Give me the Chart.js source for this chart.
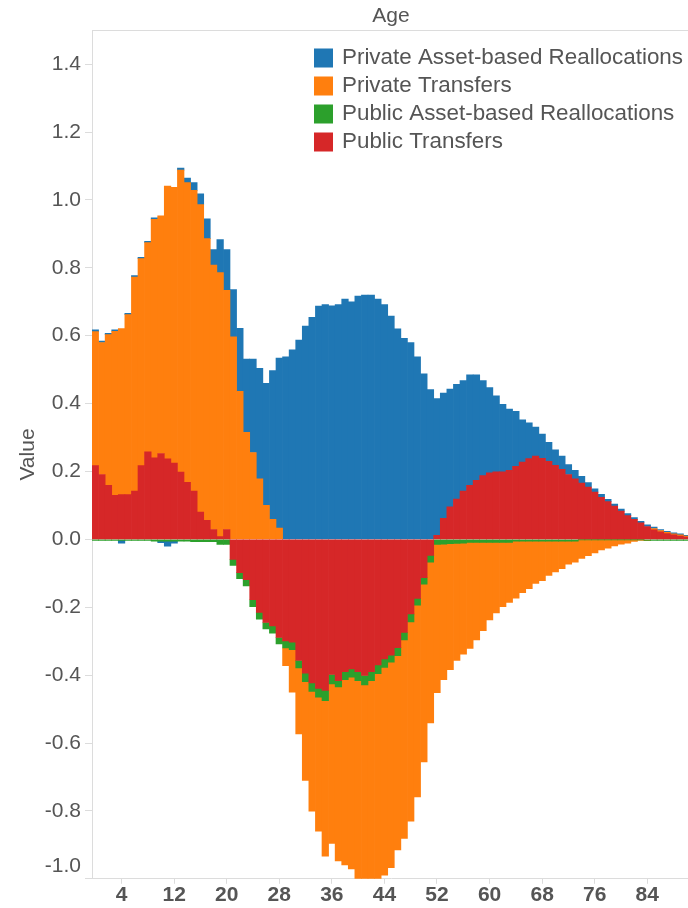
<!DOCTYPE html>
<html>
<head>
<meta charset="utf-8">
<title>Value by Age</title>
<script src="https://cdn.jsdelivr.net/npm/chart.js@4.4.1/dist/chart.umd.min.js"></script>
<style>
  html, body { margin: 0; padding: 0; background: #fff; overflow: hidden; }
  #wrap { position: relative; width: 690px; height: 908px; }
</style>
</head>
<body>
<div id="wrap"><canvas id="chart"></canvas></div>
<script>
// ages on the x axis (one bar per year)
const ages = [
  0, 1, 2, 3, 4, 5, 6, 7, 8, 9, 10, 11, 12, 13, 14, 15, 16, 17, 18, 19,
  20, 21, 22, 23, 24, 25, 26, 27, 28, 29, 30, 31, 32, 33, 34, 35, 36, 37, 38, 39,
  40, 41, 42, 43, 44, 45, 46, 47, 48, 49, 50, 51, 52, 53, 54, 55, 56, 57, 58, 59,
  60, 61, 62, 63, 64, 65, 66, 67, 68, 69, 70, 71, 72, 73, 74, 75, 76, 77, 78, 79,
  80, 81, 82, 83, 84, 85, 86, 87, 88, 89, 90
];
const xTickAges = [4, 12, 20, 28, 36, 44, 52, 60, 68, 76, 84];
const yTicks = [-1.0, -0.8, -0.6, -0.4, -0.2, 0.0, 0.2, 0.4, 0.6, 0.8, 1.0, 1.2, 1.4];

// series
const privateAsset = [
  0.005, 0.004, 0.004, 0.004, -0.008, 0.004, 0.004, 0.004, 0.004, 0.004,
  -0.005, -0.015, -0.006, 0.006, 0.013, 0.023, 0.032, 0.058, 0.046, 0.097,
  0.120, 0.139, 0.186, 0.216, 0.275, 0.326, 0.360, 0.438, 0.501, 0.538,
  0.558, 0.587, 0.628, 0.654, 0.687, 0.692, 0.688, 0.692, 0.708, 0.700,
  0.717, 0.720, 0.720, 0.708, 0.692, 0.658, 0.620, 0.592, 0.580, 0.538,
  0.488, 0.441, 0.403, 0.369, 0.347, 0.338, 0.326, 0.326, 0.311, 0.280,
  0.251, 0.224, 0.199, 0.181, 0.162, 0.124, 0.105, 0.086, 0.071, 0.056,
  0.046, 0.039, 0.029, 0.025, 0.020, 0.013, 0.010, 0.009, 0.007, 0.006,
  0.006, 0.006, 0.005, 0.004, 0.005, 0.004, 0.003, 0.003, 0.003, 0.003,
  0.002
];
const privateTransfers = [
  0.395, 0.389, 0.444, 0.483, 0.489, 0.530, 0.631, 0.610, 0.616, 0.703,
  0.700, 0.804, 0.812, 0.890, 0.883, 0.886, 0.906, 0.830, 0.779, 0.778,
  0.705, 0.597, 0.436, 0.315, 0.256, 0.178, 0.100, 0.059, 0.033, -0.052,
  -0.125, -0.194, -0.291, -0.353, -0.395, -0.458, -0.470, -0.512, -0.546, -0.565,
  -0.610, -0.615, -0.630, -0.620, -0.612, -0.605, -0.572, -0.585, -0.587, -0.565,
  -0.524, -0.474, -0.437, -0.399, -0.371, -0.345, -0.327, -0.312, -0.287, -0.260,
  -0.228, -0.208, -0.189, -0.177, -0.168, -0.152, -0.140, -0.125, -0.117, -0.101,
  -0.091, -0.081, -0.068, -0.062, -0.055, -0.047, -0.039, -0.030, -0.025, -0.018,
  -0.013, -0.010, -0.005, -0.002, -0.001, 0.004, 0.004, 0.004, 0.003, 0.003,
  0.003
];
const publicAsset = [
  -0.003, -0.003, -0.003, -0.003, -0.003, -0.003, -0.003, -0.003, -0.003, -0.005,
  -0.005, -0.005, -0.005, -0.005, -0.005, -0.007, -0.007, -0.007, -0.007, -0.015,
  -0.015, -0.018, -0.018, -0.018, -0.020, -0.020, -0.019, -0.021, -0.019, -0.021,
  -0.022, -0.022, -0.025, -0.025, -0.026, -0.030, -0.028, -0.019, -0.023, -0.024,
  -0.026, -0.028, -0.026, -0.026, -0.025, -0.021, -0.024, -0.022, -0.023, -0.020,
  -0.019, -0.020, -0.015, -0.014, -0.013, -0.012, -0.011, -0.009, -0.009, -0.009,
  -0.009, -0.009, -0.009, -0.009, -0.005, -0.005, -0.005, -0.005, -0.005, -0.005,
  -0.005, -0.005, -0.005, -0.005, -0.001, -0.001, -0.001, -0.001, -0.001, -0.001,
  -0.001, -0.001, -0.001, -0.001, -0.003, -0.003, -0.003, -0.003, -0.003, -0.003,
  -0.003
];
const publicTransfers = [
  0.217, 0.191, 0.159, 0.130, 0.132, 0.132, 0.142, 0.217, 0.258, 0.240,
  0.253, 0.237, 0.225, 0.198, 0.168, 0.142, 0.080, 0.056, 0.029, 0.008,
  0.029, -0.059, -0.098, -0.119, -0.178, -0.215, -0.245, -0.255, -0.289, -0.299,
  -0.303, -0.357, -0.394, -0.423, -0.439, -0.445, -0.398, -0.416, -0.390, -0.382,
  -0.390, -0.401, -0.390, -0.370, -0.352, -0.341, -0.319, -0.274, -0.220, -0.174,
  -0.113, -0.047, 0.012, 0.062, 0.096, 0.119, 0.142, 0.159, 0.174, 0.188,
  0.196, 0.199, 0.199, 0.203, 0.215, 0.228, 0.238, 0.245, 0.239, 0.230,
  0.218, 0.206, 0.191, 0.178, 0.166, 0.154, 0.139, 0.124, 0.111, 0.098,
  0.083, 0.070, 0.059, 0.049, 0.038, 0.028, 0.022, 0.017, 0.013, 0.010,
  0.007
];

const textColor = '#555';
const lineColor = '#dcdcdc';
Chart.defaults.font.family = '"Liberation Sans", Arial, sans-serif';

// legend drawn inside the plot, top right (blue, orange, green, red)
const cornerLegend = {
  id: 'cornerLegend',
  afterDraw(chart) {
    const ctx = chart.ctx;
    const items = chart.data.datasets.slice().reverse();
    ctx.save();
    ctx.font = '22.4px "Liberation Sans", Arial, sans-serif';
    ctx.textBaseline = 'middle';
    items.forEach((ds, i) => {
      const y = 58 + i * 28;
      ctx.fillStyle = ds.backgroundColor;
      ctx.fillRect(314, y - 9.5, 19, 19);
      ctx.fillStyle = textColor;
      ctx.fillText(ds.label, 342, y);
    });
    ctx.restore();
  }
};

// thin line along the top of the plot
const topFrame = {
  id: 'topFrame',
  beforeDatasetsDraw(chart) {
    const {ctx, chartArea} = chart;
    ctx.save();
    ctx.strokeStyle = lineColor;
    ctx.lineWidth = 1;
    ctx.beginPath();
    ctx.moveTo(chartArea.left, Math.round(chartArea.top) + 0.5);
    ctx.lineTo(chartArea.right, Math.round(chartArea.top) + 0.5);
    ctx.stroke();
    ctx.restore();
  }
};

// stacking goes from the first dataset outward, so red sits next to zero
const datasets = [
  { label: 'Public Transfers', data: publicTransfers, backgroundColor: '#d62728' },
  { label: 'Public Asset-based Reallocations', data: publicAsset, backgroundColor: '#2ca02c' },
  { label: 'Private Transfers', data: privateTransfers, backgroundColor: '#ff7f0e' },
  { label: 'Private Asset-based Reallocations', data: privateAsset, backgroundColor: '#1f77b4' }
].map(d => Object.assign(d, { barPercentage: 1.0, categoryPercentage: 1.0, borderWidth: 0 }));

new Chart(document.getElementById('chart'), {
  type: 'bar',
  data: { labels: ages, datasets: datasets },
  options: {
    responsive: true,
    maintainAspectRatio: false,
    animation: false,
    layout: { padding: 0 },
    plugins: {
      legend: { display: false },
      tooltip: { enabled: false },
      title: {
        display: true,
        text: 'Age',
        fullSize: false,
        color: textColor,
        font: { size: 21, weight: 'normal' },
        padding: { top: 4, bottom: 1 }
      }
    },
    scales: {
      x: {
        stacked: true,
        afterFit: s => { s.height = 29; },
        grid: { offset: false, drawOnChartArea: false, tickLength: 5, color: lineColor },
        border: { color: lineColor },
        ticks: {
          autoSkip: false,
          maxRotation: 0,
          padding: 1,
          color: textColor,
          font: { size: 21, weight: 'bold', lineHeight: 1 },
          callback: (v, i) => xTickAges.includes(ages[i]) ? String(ages[i]) : null
        }
      },
      y: {
        stacked: true,
        min: -1.0,
        max: 1.5,
        afterBuildTicks: s => { s.ticks = yTicks.map(v => ({ value: v })); },
        afterFit: s => { s.width = 92; },
        grid: { drawOnChartArea: false, tickLength: 7, color: lineColor },
        border: { color: lineColor },
        ticks: {
          padding: 4,
          color: textColor,
          font: { size: 21 },
          // bottom label sits a bit above its tick, like the original
          callback: v => Math.abs(v + 1) < 1e-9 ? ['-1.0', ''] : v.toFixed(1)
        },
        title: {
          display: true,
          text: 'Value',
          color: textColor,
          font: { size: 21 },
          padding: { top: 16, bottom: 0 }
        }
      }
    }
  },
  plugins: [cornerLegend, topFrame]
});
</script>
</body>
</html>
